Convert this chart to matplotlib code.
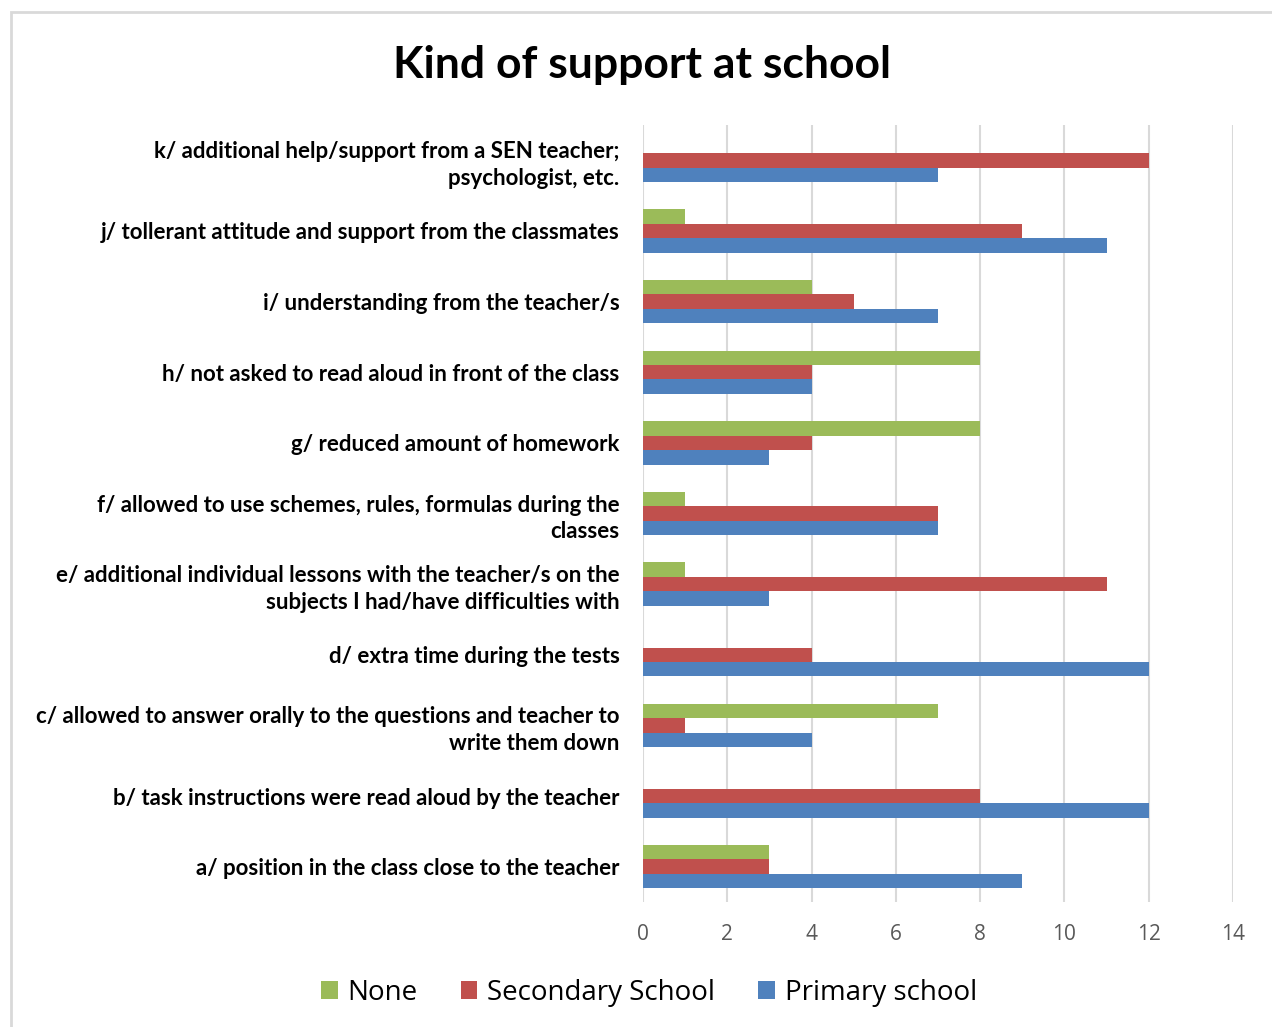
import matplotlib.pyplot as plt
import numpy as np
from matplotlib.patches import Rectangle

categories = [
    "a/ position in the class close to the teacher",
    "b/ task instructions were read aloud by the teacher",
    "c/ allowed to answer orally to the questions and teacher to\nwrite them down",
    "d/ extra time during the tests",
    "e/ additional individual lessons with the teacher/s on the\nsubjects I had/have difficulties with",
    "f/ allowed to use schemes, rules, formulas during the\nclasses",
    "g/ reduced amount of homework",
    "h/ not asked to read aloud in front of the class",
    "i/ understanding from the teacher/s",
    "j/ tollerant attitude and support from the classmates",
    "k/ additional help/support from a SEN teacher;\npsychologist, etc.",
]
none_vals = [3, 0, 7, 0, 1, 1, 8, 8, 4, 1, 0]
secondary_vals = [3, 8, 1, 4, 11, 7, 4, 4, 5, 9, 12]
primary_vals = [9, 12, 4, 12, 3, 7, 3, 4, 7, 11, 7]
xticks = [0, 2, 4, 6, 8, 10, 12, 14]

green = "#9BBB59"
red = "#C0504D"
blue = "#4F81BD"

fig = plt.figure(figsize=(12.72, 10.27), dpi=100)
fig.patches.append(Rectangle((11 / 1272, -0.01), 1.1, 1 - 12 / 1027 + 0.01,
                             transform=fig.transFigure, fill=False,
                             edgecolor="#D9D9D9", lw=2))
ax = fig.add_axes([643 / 1272, 1 - 902 / 1027, 590 / 1272, 777 / 1027])

y = np.arange(len(categories))
h = 0.205
ax.barh(y + h, none_vals, h, color=green, label="None", zorder=3)
ax.barh(y, secondary_vals, h, color=red, label="Secondary School", zorder=3)
ax.barh(y - h, primary_vals, h, color=blue, label="Primary school", zorder=3)

ax.set_xlim(0, 14)
ax.set_ylim(-0.5, len(categories) - 0.5)
ax.set_xticks(xticks)
ax.set_yticks(y)
ax.set_yticklabels(categories, fontfamily="Lato", fontweight="bold",
                   fontsize=16, linespacing=1.35)
ax.tick_params(axis="y", length=0, pad=17)
ax.tick_params(axis="x", length=0, pad=16, labelsize=15, labelcolor="#595959")
for lbl in ax.get_xticklabels():
    lbl.set_fontfamily("Open Sans")
ax.grid(axis="x", color="#D9D9D9", lw=1.5, zorder=0)
for s in ax.spines.values():
    s.set_visible(False)

fig.text(0.505, 1 - 65 / 1027, "Kind of support at school", ha="center",
         va="center", fontsize=32, fontweight="bold", fontfamily="Lato")

handles, labels = ax.get_legend_handles_labels()
fig.legend(handles, labels, loc="center", bbox_to_anchor=(649 / 1272, 1 - 993 / 1027),
           ncol=3, frameon=False, prop={"family": "Open Sans", "size": 20},
           handlelength=0.6, handleheight=0.6, handletextpad=0.35, columnspacing=1.55)

fig.savefig("out.png", dpi=100)
